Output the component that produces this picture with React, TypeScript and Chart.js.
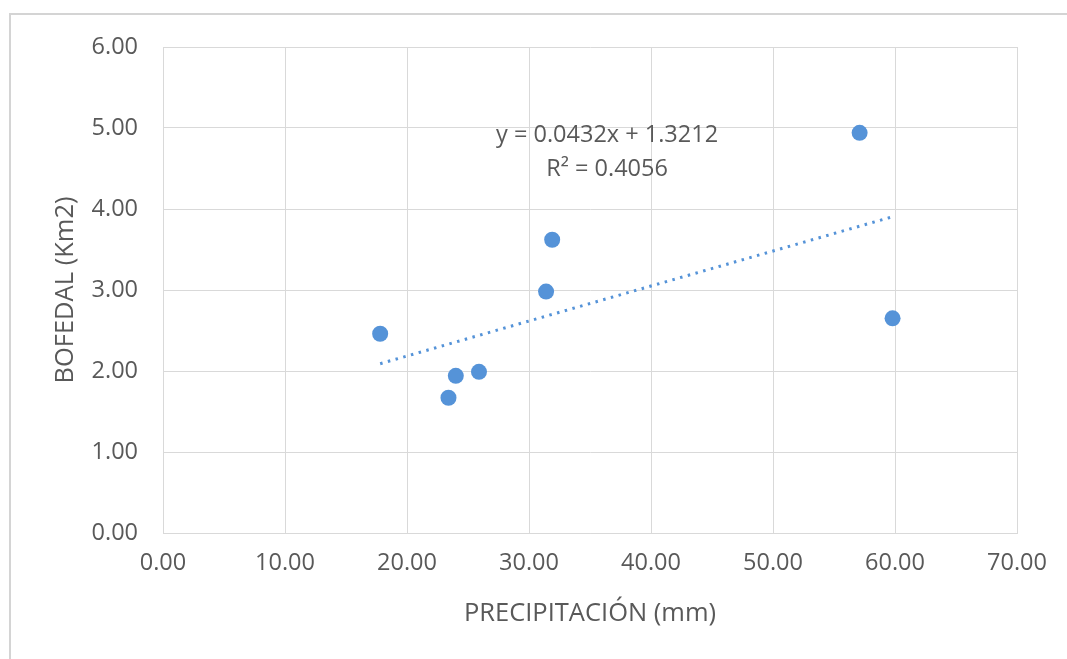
import React, { useEffect, useRef } from "react";
import { Chart, registerables } from "chart.js";

Chart.register(...registerables);

// Data
const precipitation = [17.8, 23.4, 24.0, 25.9, 31.4, 31.9, 57.1, 59.8];
const bofedal = [2.46, 1.67, 1.94, 1.99, 2.98, 3.62, 4.94, 2.65];

// Linear trendline as printed on the chart
const trendSlope = 0.0432;
const trendIntercept = 1.3212;
const trendLabel = ["y = 0.0432x + 1.3212", "R² = 0.4056"];

const xTitle = "PRECIPITACIÓN (mm)";
const yTitle = "BOFEDAL (Km2)";

const FONT = "'Open Sans', 'Liberation Sans', sans-serif";
const TEXT = "#595959";
const GRID = "#d9d9d9";
const BLUE = "#5593d8";

export default function App() {
  const ref = useRef<HTMLCanvasElement | null>(null);

  useEffect(() => {
    if (!ref.current) return;
    const xMin = Math.min(...precipitation);
    const xMax = Math.max(...precipitation);
    const trend = [xMin, xMax].map((x) => ({ x, y: trendIntercept + trendSlope * x }));

    const framePlugin = {
      id: "frame",
      beforeDraw(chart: any) {
        const { ctx } = chart;
        ctx.save();
        ctx.fillStyle = "#ffffff";
        ctx.fillRect(0, 0, chart.width, chart.height);
        ctx.strokeStyle = "#d4d4d4";
        ctx.lineWidth = 2;
        ctx.beginPath();
        ctx.moveTo(10, chart.height + 2);
        ctx.lineTo(10, 14);
        ctx.lineTo(chart.width + 2, 14);
        ctx.stroke();
        ctx.restore();
      },
      afterDatasetsDraw(chart: any) {
        const { ctx, scales } = chart;
        ctx.save();
        ctx.fillStyle = TEXT;
        ctx.font = `23.5px ${FONT}`;
        ctx.textAlign = "center";
        ctx.textBaseline = "middle";
        const cx = scales.x.getPixelForValue(36.4);
        const cy = scales.y.getPixelForValue(4.91);
        ctx.fillText(trendLabel[0], cx, cy);
        ctx.fillText(trendLabel[1], cx, cy + 34);
        ctx.restore();
      },
    };

    const chart = new Chart(ref.current, {
      type: "scatter",
      data: {
        datasets: [
          {
            label: "Bofedal",
            data: precipitation.map((x, i) => ({ x, y: bofedal[i] })),
            backgroundColor: BLUE,
            borderColor: BLUE,
            pointRadius: 8,
            pointBorderWidth: 0,
          },
          {
            label: "Lineal",
            data: trend,
            showLine: true,
            pointRadius: 0,
            borderColor: BLUE,
            borderWidth: 3,
            borderDash: [2.5, 5.5],
            fill: false,
          },
        ],
      },
      options: {
        animation: false,
        responsive: false,
        maintainAspectRatio: false,
        layout: { padding: { top: 47, right: 50, left: 0, bottom: 0 } },
        plugins: { legend: { display: false }, tooltip: { enabled: false } },
        scales: {
          x: {
            type: "linear",
            min: 0,
            max: 70,
            afterFit(scale: any) {
              scale.height = 126;
            },
            ticks: {
              stepSize: 10,
              color: TEXT,
              font: { family: FONT, size: 23.5 },
              padding: 16,
              callback: (v: any) => Number(v).toFixed(2),
            },
            grid: { color: GRID, lineWidth: 1, drawTicks: false },
            border: { color: GRID, width: 1 },
            title: {
              display: true,
              text: xTitle,
              color: TEXT,
              font: { family: FONT, size: 25.5 },
              padding: { top: 0, bottom: 30 },
            },
          },
          y: {
            type: "linear",
            min: 0,
            max: 6,
            afterFit(scale: any) {
              scale.width = 163;
            },
            ticks: {
              stepSize: 1,
              color: TEXT,
              font: { family: FONT, size: 23.5 },
              padding: 25,
              callback: (v: any) => Number(v).toFixed(2),
            },
            grid: { color: GRID, lineWidth: 1, drawTicks: false },
            border: { color: GRID, width: 1 },
            title: {
              display: true,
              text: yTitle,
              color: TEXT,
              font: { family: FONT, size: 25.5 },
              padding: { top: 50, bottom: 0 },
            },
          },
        },
      },
      plugins: [framePlugin],
    });
    return () => chart.destroy();
  }, []);

  return (
    <div style={{ position: "fixed", left: 0, top: 0, width: 1067, height: 659, background: "#fff" }}>
      <canvas ref={ref} width={1067} height={659} style={{ display: "block", width: 1067, height: 659 }} />
    </div>
  );
}
